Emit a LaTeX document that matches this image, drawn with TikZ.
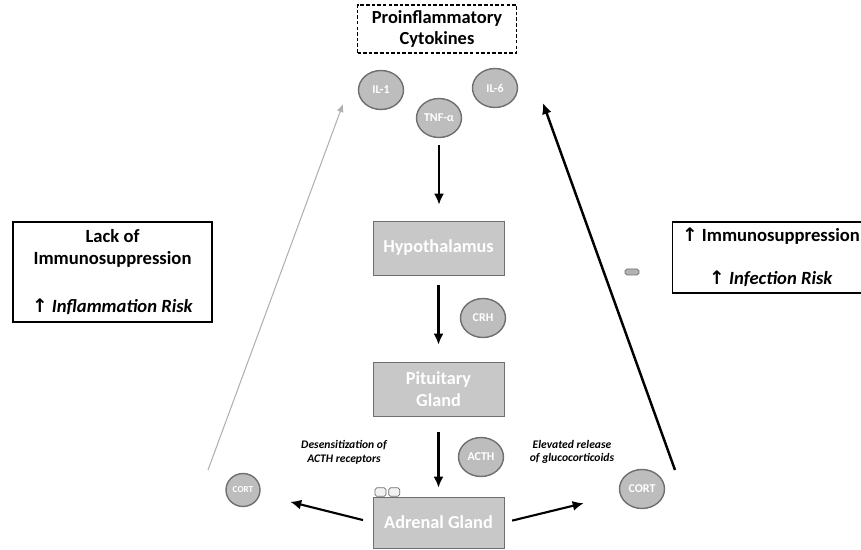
\documentclass[tikz,border=0pt]{standalone}
\usepackage{fontspec}
\setmainfont{Carlito}
\newfontfamily\arrowfont{DejaVu Sans}
\usepackage{tikz}
\usetikzlibrary{arrows.meta,positioning,shapes.geometric}

\definecolor{boxgray}{HTML}{C8C8C8}
\definecolor{circgray}{HTML}{BDBDBD}
\definecolor{edgegray}{HTML}{6F6F6F}
\definecolor{thingray}{HTML}{B0B0B0}

\newcommand{\uparr}{{\arrowfont\char"2191}}

\begin{document}
\begin{tikzpicture}[
  gland/.style={draw=edgegray, fill=boxgray, minimum height=1.08cm, minimum width=2.62cm, align=center, text=white, font=\fontsize{10.4}{12.4}\selectfont\bfseries},
  horm/.style={ellipse, draw=edgegray, line width=0.8pt, fill=circgray, minimum width=0.9cm, minimum height=0.78cm, inner sep=0pt, text=white, font=\fontsize{6.8}{7}\selectfont\bfseries},
  effect/.style={draw, line width=1pt, align=center, font=\fontsize{10.6}{12.6}\selectfont\bfseries},
  lbl/.style={align=center, font=\fontsize{6.6}{7.8}\selectfont\bfseries\itshape},
  arr/.style={-{Latex[length=2.2mm, width=2mm]}, line width=1.2pt}
]
\useasboundingbox (0,0) rectangle (17.22,-11);

\node[draw, dash pattern=on 2pt off 1.2pt, line width=1pt, minimum width=3.18cm, minimum height=0.84cm, align=center, font=\fontsize{10.5}{11.8}\selectfont\bfseries] (cyto) at (8.74,-0.58) {Proinflammatory\\Cytokines};

\node[horm] (il1) at (7.62,-1.8) {IL-1};
\node[horm] (tnf) at (8.78,-2.36) {TNF-α};
\node[horm] (il6) at (9.9,-1.76) {IL-6};

\node[gland] (hypo) at (8.77,-4.96) {Hypothalamus};
\node[horm] (crh) at (9.66,-6.36) {CRH};
\node[gland] (pit) at (8.77,-7.78) {Pituitary\\Gland};
\node[horm] (acth) at (9.62,-9.14) {ACTH};
\node[gland, minimum height=1.02cm] (adr) at (8.77,-10.45) {Adrenal Gland};
\node[draw=edgegray, fill=gray!10, rounded corners=1pt, minimum width=0.22cm, minimum height=0.17cm, inner sep=0pt, anchor=south west] (tab1) at ([xshift=0.04cm]adr.north west) {};
\node[draw=edgegray, fill=gray!10, rounded corners=1pt, minimum width=0.22cm, minimum height=0.17cm, inner sep=0pt, right=0.04cm of tab1] (tab2) {};

\node[horm, minimum width=0.68cm, minimum height=0.66cm, font=\fontsize{5.2}{6}\selectfont\bfseries] (cortl) at (4.86,-9.8) {CORT};
\node[horm] (cortr) at (12.84,-9.78) {CORT};

\node[lbl] (desens) at (6.88,-9.04) {Desensitization of\\ACTH receptors};
\node[lbl] (elev) at (11.44,-9.04) {Elevated release\\of glucocorticoids};

\node[effect, minimum width=3.98cm, minimum height=2.0cm] (lack) at (2.25,-5.44) {Lack of\\Immunosuppression\\[0.5cm] \uparr\ \textit{Inflammation Risk}};
\node[effect, minimum width=4.2cm, minimum height=1.42cm] (immuno) at (15.55,-5.15) {};
\node[effect, draw=none] (immunotxt) at (15.42,-5.15) {\uparr\ Immunosuppression\\[0.42cm] \uparr\ \textit{Infection Risk}};

\node[draw=edgegray, fill=gray!60, rounded corners=1pt, minimum width=0.28cm, minimum height=0.12cm, inner sep=0pt] (minus) at (12.64,-5.44) {};

\draw[arr, shorten <=0.14cm, shorten >=0.32cm] (tnf) -- (tnf |- hypo.north);
\draw[arr, shorten <=0.2cm, shorten >=0.34cm] (hypo) -- (pit);
\draw[arr, shorten <=0.32cm, shorten >=0.18cm] (pit) -- (adr);
\draw[arr, shorten <=0.2cm, shorten >=0.62cm] (adr.west) -- (cortl);
\draw[arr, shorten <=0.16cm, shorten >=0.74cm] (adr.east) -- (cortr);

\coordinate (lfrom) at (4.16,-9.4);
\coordinate (lto) at (6.86,-2.08);
\coordinate (rfrom) at (13.5,-9.4);
\coordinate (rto) at (10.86,-2.06);
\draw[-{Latex[length=1.6mm, width=1.4mm]}, thingray, line width=0.6pt] (lfrom) -- (lto);
\draw[arr, line width=1.4pt] (rfrom) -- (rto);

\end{tikzpicture}
\end{document}
